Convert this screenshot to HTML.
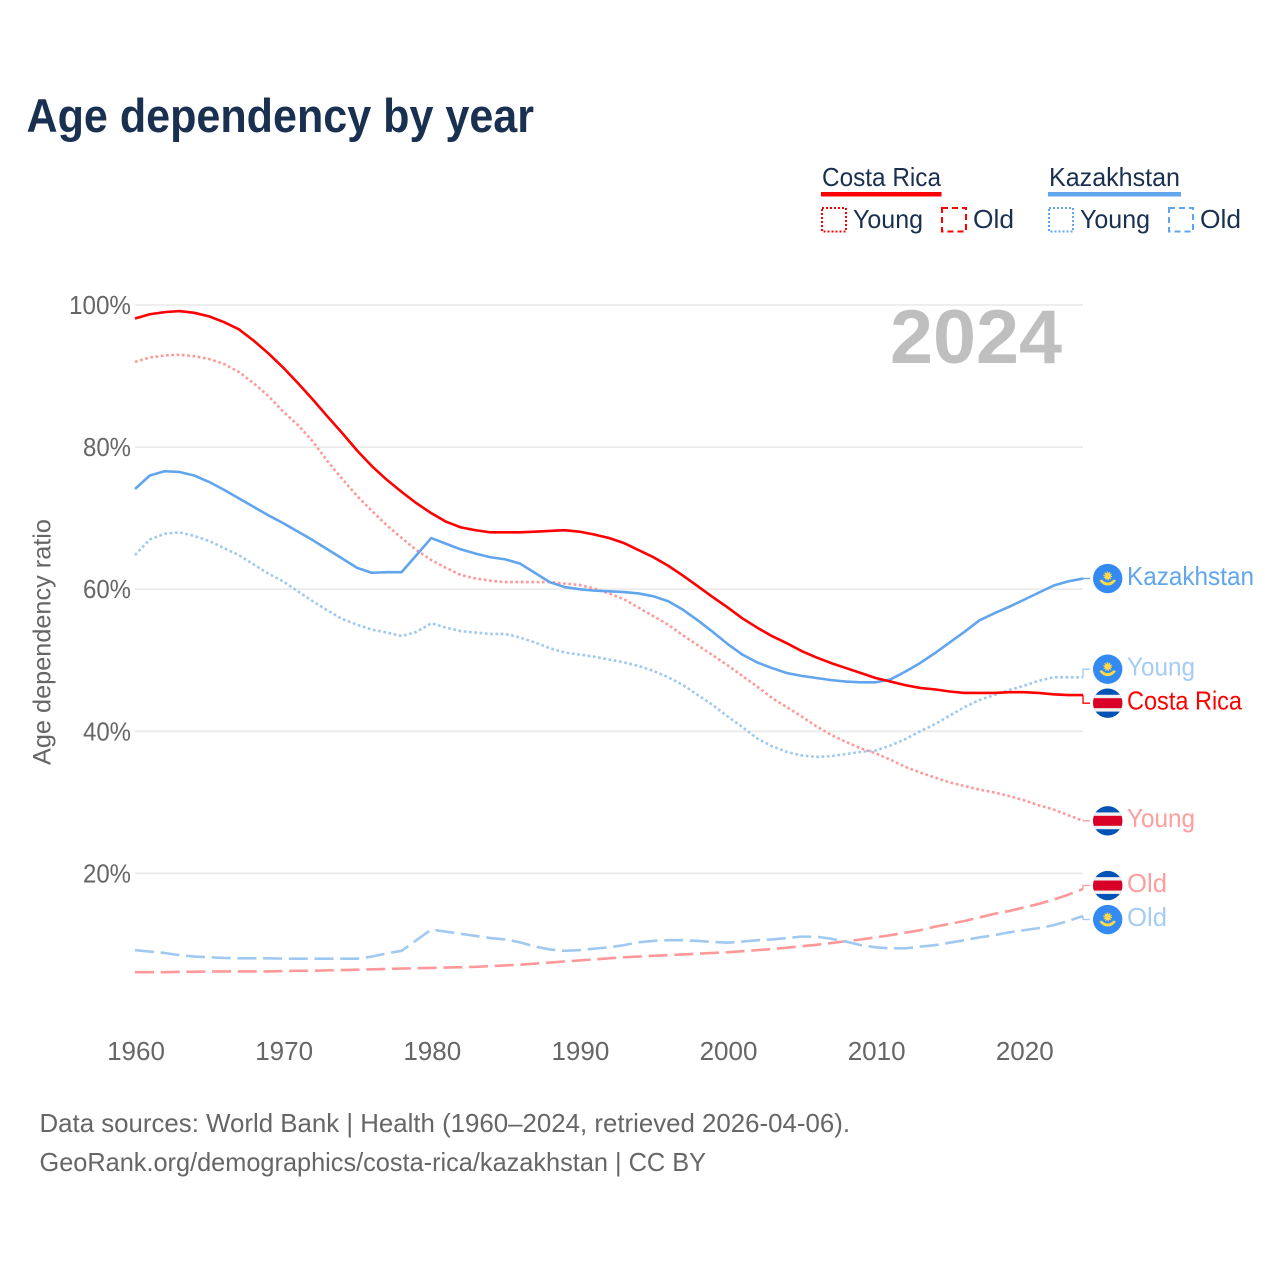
<!DOCTYPE html>
<html lang="en">
<head>
<meta charset="utf-8">
<title>Age dependency by year</title>
<style>
html,body{margin:0;padding:0;background:#fff;width:1280px;height:1280px;overflow:hidden}
svg{display:block}
text{font-family:"Liberation Sans",sans-serif}
</style>
</head>
<body>
<svg id="chart" xmlns="http://www.w3.org/2000/svg" width="1280" height="1280" viewBox="0 0 1280 1280">
  <defs>
    <clipPath id="flag-clip"><circle cx="0" cy="0" r="14.7"></circle></clipPath>
  </defs>
  <rect x="0" y="0" width="1280" height="1280" fill="#ffffff"></rect>

  <text x="26.5" y="132" font-size="47" font-weight="700" fill="#1a3050" textLength="507.5" lengthAdjust="spacingAndGlyphs">Age dependency by year</text>

  <g>
    <text x="822" y="186" font-size="26" fill="#1a3050" textLength="119" lengthAdjust="spacingAndGlyphs">Costa Rica</text>
    <rect x="821" y="192" width="120.5" height="4.5" fill="#ff0000"></rect>
    <rect x="822" y="208" width="24" height="23.5" fill="none" stroke="#ff0000" stroke-width="2" stroke-dasharray="2 2"></rect>
    <text x="853" y="228" font-size="26" fill="#1a3050" textLength="70" lengthAdjust="spacingAndGlyphs">Young</text>
    <rect x="942" y="208" width="24" height="23.5" fill="none" stroke="#ff0000" stroke-width="2" stroke-dasharray="6 4"></rect>
    <text x="973" y="228" font-size="26" fill="#1a3050" textLength="41" lengthAdjust="spacingAndGlyphs">Old</text>

    <text x="1049" y="186" font-size="26" fill="#1a3050" textLength="131" lengthAdjust="spacingAndGlyphs">Kazakhstan</text>
    <rect x="1048" y="192" width="133" height="4.5" fill="#60a5ee"></rect>
    <rect x="1049" y="208" width="24" height="23.5" fill="none" stroke="#60a5ee" stroke-width="2" stroke-dasharray="2 2"></rect>
    <text x="1080" y="228" font-size="26" fill="#1a3050" textLength="70" lengthAdjust="spacingAndGlyphs">Young</text>
    <rect x="1169" y="208" width="24" height="23.5" fill="none" stroke="#60a5ee" stroke-width="2" stroke-dasharray="6 4"></rect>
    <text x="1200" y="228" font-size="26" fill="#1a3050" textLength="41" lengthAdjust="spacingAndGlyphs">Old</text>
  </g>

  <g id="grid"></g>
  <g id="y-labels"></g>
  <g id="x-labels"></g>

  <text transform="translate(50.5 642) rotate(-90)" text-anchor="middle" font-size="25" fill="#666666" textLength="246" lengthAdjust="spacingAndGlyphs">Age dependency ratio</text>
  <text x="890" y="363" font-size="76" font-weight="700" fill="#bfbfbf" textLength="172" lengthAdjust="spacingAndGlyphs">2024</text>

  <g id="series"></g>
  <g id="end-labels"></g>

  <text x="39.5" y="1132" font-size="26" fill="#666666" textLength="810.5" lengthAdjust="spacingAndGlyphs">Data sources: World Bank | Health (1960–2024, retrieved 2026-04-06).</text>
  <text x="39.5" y="1171" font-size="26" fill="#666666" textLength="666.5" lengthAdjust="spacingAndGlyphs">GeoRank.org/demographics/costa-rica/kazakhstan | CC BY</text>
</svg>

<script>
const startYear = 1960;
const xTickLabels = [1960, 1970, 1980, 1990, 2000, 2010, 2020];
const yTickLabels = [20, 40, 60, 80, 100];

const costaRicaTotal = [
  98.1,98.7,99.0,99.15,98.9,98.4,97.6,96.6,95.0,93.2,
  91.2,89.0,86.7,84.3,81.95,79.5,77.3,75.4,73.7,72.1,
  70.7,69.5,68.7,68.3,68.0,68.0,68.0,68.1,68.2,68.3,
  68.1,67.7,67.2,66.5,65.5,64.5,63.3,61.9,60.4,58.9,
  57.45,55.9,54.6,53.4,52.4,51.3,50.4,49.6,48.9,48.2,
  47.5,47.0,46.5,46.1,45.9,45.6,45.4,45.4,45.4,45.5,
  45.5,45.4,45.2,45.1,45.1
];
const costaRicaYoung = [
  92.0,92.6,92.9,93.0,92.8,92.4,91.7,90.6,89.0,87.2,
  85.0,83.1,80.8,78.0,75.5,73.1,71.0,69.0,67.2,65.5,
  64.1,63.0,62.0,61.5,61.2,61.0,61.0,61.0,61.0,60.8,
  60.6,60.1,59.4,58.6,57.4,56.2,55.0,53.5,52.1,50.7,
  49.3,47.8,46.3,44.7,43.4,42.1,40.7,39.5,38.5,37.6,
  36.9,36.0,35.0,34.2,33.5,32.8,32.3,31.8,31.4,30.9,
  30.3,29.6,29.0,28.2,27.4
];
const costaRicaOld = [
  6.1,6.1,6.1,6.15,6.15,6.2,6.2,6.2,6.2,6.2,
  6.25,6.3,6.3,6.35,6.4,6.45,6.5,6.55,6.6,6.65,
  6.7,6.75,6.8,6.85,6.95,7.05,7.15,7.3,7.45,7.6,
  7.75,7.9,8.05,8.2,8.3,8.4,8.5,8.6,8.7,8.8,
  8.9,9.05,9.2,9.35,9.55,9.75,9.95,10.2,10.45,10.7,
  11.0,11.3,11.66,12.0,12.5,12.9,13.3,13.8,14.3,14.7,
  15.2,15.7,16.3,17.0,17.8
];
const kazakhstanTotal = [
  74.1,76.0,76.6,76.5,76.0,75.1,74.0,72.8,71.6,70.4,
  69.3,68.1,66.9,65.6,64.3,63.0,62.3,62.4,62.4,64.8,
  67.2,66.4,65.6,65.0,64.5,64.2,63.6,62.3,61.0,60.3,
  60.0,59.8,59.7,59.6,59.4,59.0,58.3,57.1,55.6,54.0,
  52.3,50.8,49.7,48.9,48.2,47.8,47.5,47.2,47.0,46.9,
  46.9,47.3,48.4,49.6,51.0,52.5,54.0,55.6,56.6,57.5,
  58.5,59.5,60.5,61.1,61.5
];
const kazakhstanYoung = [
  64.8,67.0,67.8,68.0,67.5,66.8,65.8,64.8,63.5,62.2,
  61.1,59.7,58.3,57.0,55.8,55.0,54.3,53.9,53.4,54.0,
  55.2,54.6,54.1,53.9,53.7,53.7,53.2,52.5,51.7,51.1,
  50.8,50.5,50.1,49.7,49.2,48.5,47.6,46.5,45.1,43.7,
  42.1,40.6,39.0,37.9,37.1,36.6,36.4,36.5,36.8,37.1,
  37.3,38.0,38.9,40.0,41.0,42.2,43.4,44.4,45.1,45.8,
  46.4,47.1,47.6,47.6,47.6
];
const kazakhstanOld = [
  9.2,9.0,8.8,8.5,8.3,8.2,8.1,8.05,8.05,8.05,
  8.0,8.0,8.0,8.0,8.0,8.0,8.3,8.75,9.1,10.6,
  12.1,11.8,11.5,11.2,10.9,10.7,10.3,9.7,9.3,9.1,
  9.2,9.4,9.6,9.9,10.3,10.5,10.6,10.6,10.5,10.35,
  10.25,10.4,10.6,10.7,10.9,11.1,11.1,10.8,10.4,9.9,
  9.6,9.45,9.45,9.7,9.9,10.25,10.6,11.0,11.3,11.7,
  12.0,12.3,12.7,13.3,14.0
];

const NS = 'http://www.w3.org/2000/svg';
const xScale = function (year) { return 135 + (year - startYear) * 14.8125; };
const yScale = function (v) { return 305 + (100 - v) * 7.105; };

function make(tag, attrs, parent, textValue) {
  const el = document.createElementNS(NS, tag);
  Object.keys(attrs).forEach(function (k) { el.setAttribute(k, attrs[k]); });
  if (textValue !== undefined) el.textContent = textValue;
  parent.appendChild(el);
  return el;
}

const gridG = document.getElementById('grid');
const yLabG = document.getElementById('y-labels');
const xLabG = document.getElementById('x-labels');
const seriesG = document.getElementById('series');
const endG = document.getElementById('end-labels');

yTickLabels.forEach(function (t) {
  const line = make('line', {x1: 135, x2: 1083, y1: yScale(t), y2: yScale(t), stroke: '#ebebeb', 'stroke-width': 1.8}, gridG);
  
  
  const s = t + '%';
  const labelWidth = s.length * 14 + 6;
  const lab = make('text', {x: 131 - labelWidth, y: yScale(t) + 9, 'font-size': 25.5, fill: '#666666', textLength: labelWidth, lengthAdjust: 'spacingAndGlyphs'}, yLabG, s);
  
  
});

xTickLabels.forEach(function (t) {
  const lab = make('text', {x: xScale(t) + 1, y: 1060, 'font-size': 26, fill: '#666666', 'text-anchor': 'middle'}, xLabG, String(t));
  
  
});

const seriesList = [
  {key: 'costa-rica-young', values: costaRicaYoung, color: '#ff9999', dash: '2.7 2.6', label: 'Young', flag: 'cr', labelColor: '#ff9e9e', w: 68},
  {key: 'kazakhstan-young', values: kazakhstanYoung, color: '#a0c9f2', dash: '2.7 2.6', label: 'Young', flag: 'kz', labelColor: '#a6ccf4', w: 68},
  {key: 'costa-rica-old', values: costaRicaOld, color: '#ff9999', dash: '19 6.7', label: 'Old', flag: 'cr', labelColor: '#ff9e9e', w: 40},
  {key: 'kazakhstan-old', values: kazakhstanOld, color: '#a0c9f2', dash: '19 6.7', label: 'Old', flag: 'kz', labelColor: '#a6ccf4', w: 40},
  {key: 'kazakhstan-total', values: kazakhstanTotal, color: '#60a5ee', dash: '', label: 'Kazakhstan', flag: 'kz', labelColor: '#60a5ee', w: 127},
  {key: 'costa-rica-total', values: costaRicaTotal, color: '#ff0000', dash: '', label: 'Costa Rica', flag: 'cr', labelColor: '#ff0000', w: 115}
];

seriesList.forEach(function (s) {
  const d = s.values.map(function (v, i) {
    return (i ? 'L' : 'M') + xScale(startYear + i).toFixed(2) + ' ' + yScale(v).toFixed(2);
  }).join(' ');
  const attrs = {d: d, fill: 'none', stroke: s.color, 'stroke-width': 2.6, 'stroke-linejoin': 'round'};
  if (s.dash) attrs['stroke-dasharray'] = s.dash;
  const path = make('path', attrs, seriesG);
  
  
});

/* place end labels: push overlapping neighbours apart around their midpoint */
const minGap = 34;
const placed = seriesList.map(function (s) {
  const endY = yScale(s.values[s.values.length - 1]);
  return {s: s, endY: endY, y: endY};
}).sort(function (a, b) { return a.endY - b.endY; });
for (let pass = 0; pass < 6; pass++) {
  for (let i = 1; i < placed.length; i++) {
    const gap = placed[i].y - placed[i - 1].y;
    if (gap < minGap) {
      const push = (minGap - gap) / 2;
      placed[i - 1].y -= push;
      placed[i].y += push;
    }
  }
}

function drawFlag(kind, cy, parent) {
  const g = make('g', {transform: 'translate(1107.7 ' + cy.toFixed(2) + ')', 'clip-path': 'url(#flag-clip)'}, parent);
  
  
  if (kind === 'cr') {
    make('rect', {x: -15, y: -15, width: 30, height: 30, fill: '#0052b4'}, g);
    make('rect', {x: -15, y: -8.4, width: 30, height: 16.8, fill: '#f0f0f0'}, g);
    make('rect', {x: -15, y: -5, width: 30, height: 10, fill: '#d80027'}, g);
  } else {
    make('rect', {x: -15, y: -15, width: 30, height: 30, fill: '#338af3'}, g);
    make('circle', {cx: 0, cy: -2.6, r: 3.2, fill: '#ffda44'}, g);
    make('circle', {cx: 0, cy: -2.6, r: 3.8, fill: 'none', stroke: '#ffda44', 'stroke-width': 1.2, 'stroke-dasharray': '1.2 1.2'}, g);
    make('path', {d: 'M-8.3 2 L-6 1 Q-3 4 0 4 Q3 4 6 1 L8.3 2 Q5 7 0 7 Q-5 7 -8.3 2 Z', fill: '#ffda44'}, g);
  }
}

placed.forEach(function (p) {
  const s = p.s;
  const midX = 1083;
  const conn = make('path', {d: 'M' + midX + ' ' + p.endY.toFixed(2) + ' L' + midX + ' ' + p.y.toFixed(2) + ' L1090 ' + p.y.toFixed(2), fill: 'none', stroke: s.color, 'stroke-width': 1.3}, endG);
  
  
  drawFlag(s.flag, p.y, endG);
  const lab = make('text', {x: 1127, y: p.y + 6.4, 'font-size': 26, fill: s.labelColor, textLength: s.w, lengthAdjust: 'spacingAndGlyphs'}, endG, s.label);
  
  
});
</script>
</body>
</html>
